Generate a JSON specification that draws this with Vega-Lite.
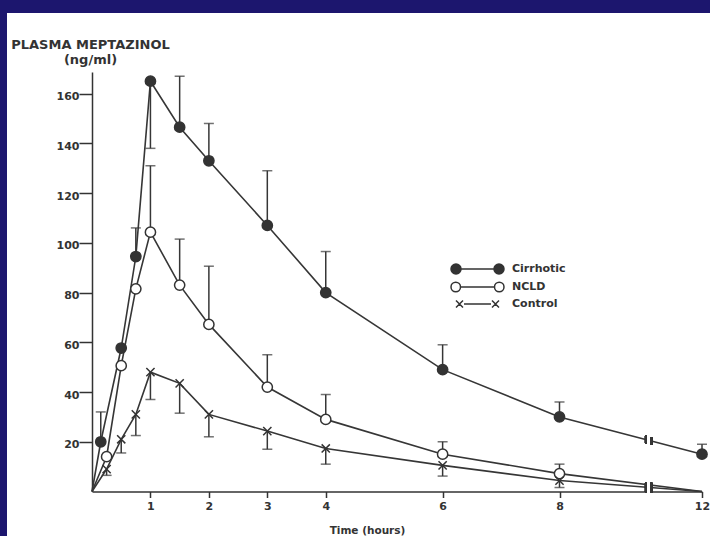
{
  "$schema": "https://vega.github.io/schema/vega-lite/v6.json",
  "width": 703,
  "height": 523,
  "autosize": {"type": "none"},
  "padding": {"left": 7, "top": 13, "right": 0, "bottom": 0},
  "background": "#1c166e",
  "config": {"view": {"fill": "white", "stroke": null}, "font": "DejaVu Sans"},
  "data": {"values": [
    {"group": "Cirrhotic", "t": 0, "conc": 0},
    {"group": "Cirrhotic", "t": 0.15, "conc": 20, "err": 32},
    {"group": "Cirrhotic", "t": 0.5, "conc": 57.7},
    {"group": "Cirrhotic", "t": 0.75, "conc": 94.5, "err": 106},
    {"group": "Cirrhotic", "t": 1, "conc": 165, "err": 138},
    {"group": "Cirrhotic", "t": 1.5, "conc": 146.5, "err": 167},
    {"group": "Cirrhotic", "t": 2, "conc": 133, "err": 148},
    {"group": "Cirrhotic", "t": 3, "conc": 107, "err": 129},
    {"group": "Cirrhotic", "t": 4, "conc": 80, "err": 96.5},
    {"group": "Cirrhotic", "t": 6, "conc": 49, "err": 59},
    {"group": "Cirrhotic", "t": 8, "conc": 30, "err": 36},
    {"group": "Cirrhotic", "t": 12, "conc": 15, "err": 19},
    {"group": "NCLD", "t": 0, "conc": 0},
    {"group": "NCLD", "t": 0.25, "conc": 14},
    {"group": "NCLD", "t": 0.5, "conc": 50.6},
    {"group": "NCLD", "t": 0.75, "conc": 81.5},
    {"group": "NCLD", "t": 1, "conc": 104.3, "err": 131},
    {"group": "NCLD", "t": 1.5, "conc": 83, "err": 101.5},
    {"group": "NCLD", "t": 2, "conc": 67.2, "err": 90.6},
    {"group": "NCLD", "t": 3, "conc": 42, "err": 55},
    {"group": "NCLD", "t": 4, "conc": 29, "err": 39},
    {"group": "NCLD", "t": 6, "conc": 15, "err": 20},
    {"group": "NCLD", "t": 8, "conc": 7.2, "err": 11},
    {"group": "NCLD", "t": 12, "conc": 0},
    {"group": "Control", "t": 0, "conc": 0},
    {"group": "Control", "t": 0.25, "conc": 9, "err": 6.5},
    {"group": "Control", "t": 0.5, "conc": 21, "err": 15.5},
    {"group": "Control", "t": 0.75, "conc": 31, "err": 22.5},
    {"group": "Control", "t": 1, "conc": 48, "err": 37},
    {"group": "Control", "t": 1.5, "conc": 43.5, "err": 31.5},
    {"group": "Control", "t": 2, "conc": 31, "err": 22},
    {"group": "Control", "t": 3, "conc": 24.3, "err": 17},
    {"group": "Control", "t": 4, "conc": 17.3, "err": 11},
    {"group": "Control", "t": 6, "conc": 10.5, "err": 6.2},
    {"group": "Control", "t": 8, "conc": 4.4, "err": 1.6},
    {"group": "Control", "t": 12, "conc": 0}
  ]},
  "encoding": {
    "x": {
      "field": "t", "type": "quantitative",
      "scale": {"domain": [0, 8, 12], "range": [85, 552.5, 695], "nice": false, "zero": false},
      "axis": {
        "values": [1, 2, 3, 4, 6, 8, 12], "offset": -44.5, "grid": false,
        "tickSize": 6, "tickWidth": 1.5, "tickColor": "#333", "domainColor": "#333", "domainWidth": 1.5,
        "labelPadding": 3, "labelFont": "DejaVu Sans", "labelFontSize": 11, "labelFontWeight": "bold", "labelColor": "#333",
        "labelFlush": false,
        "title": "Time (hours)", "titleX": 360, "titleY": 41.5, "titleAlign": "center", "titleBaseline": "alphabetic",
        "titleFont": "DejaVu Sans", "titleFontSize": 10.5, "titleFontWeight": "bold", "titleColor": "#333"
      }
    },
    "y": {
      "field": "conc", "type": "quantitative",
      "scale": {"domain": [0, 168.7], "range": [478.5, 59], "nice": false, "zero": false},
      "axis": {
        "values": [20, 40, 60, 80, 100, 120, 140, 160], "offset": -85, "grid": false,
        "tickSize": 13, "tickWidth": 1.5, "tickColor": "#333", "domainColor": "#333", "domainWidth": 1.5,
        "labelPadding": 0, "labelOffset": 3, "labelFont": "DejaVu Sans", "labelFontSize": 11, "labelFontWeight": "bold", "labelColor": "#333",
        "title": ["PLASMA MEPTAZINOL", "(ng/ml)"], "titleAngle": 0, "titleX": -2, "titleY": 35.5,
        "titleAlign": "center", "titleBaseline": "alphabetic", "titleLineHeight": 15,
        "titleFont": "DejaVu Sans", "titleFontSize": 13, "titleFontWeight": "bold", "titleColor": "#333"
      }
    }
  },
  "layer": [
    {
      "mark": {"type": "line", "stroke": "#363636", "strokeWidth": 1.6},
      "encoding": {"detail": {"field": "group"}}
    },
    {
      "transform": [{"filter": "isValid(datum.err)"}],
      "mark": {"type": "rule", "stroke": "#363636", "strokeWidth": 1.5},
      "encoding": {"y2": {"field": "err"}}
    },
    {
      "transform": [{"filter": "isValid(datum.err)"}],
      "mark": {"type": "tick", "orient": "horizontal", "size": 10, "thickness": 1.5, "color": "#363636"},
      "encoding": {"y": {"field": "err", "type": "quantitative"}}
    },
    {
      "transform": [{"filter": "datum.t > 0 && datum.conc > 0"}],
      "mark": {"type": "point", "filled": true, "stroke": "#333", "strokeWidth": 1.5, "size": 105, "opacity": 1},
      "encoding": {
        "shape": {
          "field": "group", "type": "nominal",
          "scale": {"domain": ["Cirrhotic", "NCLD", "Control"], "range": ["circle", "circle", "M-0.8,-0.8L0.8,0.8M-0.8,0.8L0.8,-0.8"]},
          "legend": null
        },
        "fill": {
          "field": "group", "type": "nominal",
          "scale": {"domain": ["Cirrhotic", "NCLD", "Control"], "range": ["#333333", "#ffffff", "transparent"]},
          "legend": null
        }
      }
    },
    {
      "transform": [{"filter": "false"}],
      "mark": {"type": "point", "filled": true, "strokeWidth": 1.5, "opacity": 1},
      "encoding": {
        "shape": {
          "field": "group", "type": "nominal",
          "scale": {"domain": ["Cirrhotic", "NCLD", "Control"], "range": [
            "M-5.3,0A1,1 0 1,1 -3.3,0A1,1 0 1,1 -5.3,0ZM-3.3,0L3.3,0M3.3,0A1,1 0 1,1 5.3,0A1,1 0 1,1 3.3,0Z",
            "M-5.3,0A0.95,0.95 0 1,1 -3.4,0A0.95,0.95 0 1,1 -5.3,0ZM-3.4,0L3.4,0M3.4,0A0.95,0.95 0 1,1 5.3,0A0.95,0.95 0 1,1 3.4,0Z",
            "M-4.3,-0.7L-2.9,0.7M-4.3,0.7L-2.9,-0.7M-2.7,0L2.7,0M2.9,-0.7L4.3,0.7M2.9,0.7L4.3,-0.7"
          ]},
          "legend": {
            "orient": "none", "legendX": 464.5, "legendY": 250, "title": null, "padding": 0,
            "symbolSize": 100, "symbolStrokeWidth": 1.5, "symbolOpacity": 1,
            "labelFont": "DejaVu Sans", "labelFontSize": 11, "labelFontWeight": "bold", "labelColor": "#333",
            "labelOffset": 28.5, "rowPadding": 2
          }
        },
        "fill": {
          "field": "group", "type": "nominal",
          "scale": {"domain": ["Cirrhotic", "NCLD", "Control"], "range": ["#333333", "#ffffff", "transparent"]},
          "legend": {
            "orient": "none", "legendX": 464.5, "legendY": 250, "title": null, "padding": 0,
            "symbolSize": 100, "symbolStrokeWidth": 1.5, "symbolOpacity": 1,
            "labelFont": "DejaVu Sans", "labelFontSize": 11, "labelFontWeight": "bold", "labelColor": "#333",
            "labelOffset": 28.5, "rowPadding": 2
          }
        },
        "stroke": {
          "field": "group", "type": "nominal",
          "scale": {"domain": ["Cirrhotic", "NCLD", "Control"], "range": ["#333333", "#333333", "#333333"]},
          "legend": {
            "orient": "none", "legendX": 464.5, "legendY": 250, "title": null, "padding": 0,
            "symbolSize": 100, "symbolStrokeWidth": 1.5, "symbolOpacity": 1,
            "labelFont": "DejaVu Sans", "labelFontSize": 11, "labelFontWeight": "bold", "labelColor": "#333",
            "labelOffset": 28.5, "rowPadding": 2
          }
        }
      }
    },
    {
      "mark": {"type": "rect", "fill": "white"},
      "encoding": {
        "x": {"datum": 10.42, "type": "quantitative"},
        "x2": {"datum": 10.58},
        "y": {"datum": -2, "type": "quantitative"},
        "y2": {"datum": 25}
      }
    },
    {
      "mark": {"type": "rule", "stroke": "#363636", "strokeWidth": 1.5},
      "encoding": {
        "x": {"datum": 10.42, "type": "quantitative"},
        "y": {"datum": -0.3, "type": "quantitative"},
        "y2": {"datum": 3.5}
      }
    },
    {
      "mark": {"type": "rule", "stroke": "#363636", "strokeWidth": 1.5},
      "encoding": {
        "x": {"datum": 10.58, "type": "quantitative"},
        "y": {"datum": -0.3, "type": "quantitative"},
        "y2": {"datum": 3.5}
      }
    },
    {
      "mark": {"type": "rule", "stroke": "#363636", "strokeWidth": 1.5},
      "encoding": {
        "x": {"datum": 10.42, "type": "quantitative"},
        "y": {"datum": 19.3, "type": "quantitative"},
        "y2": {"datum": 22.5}
      }
    },
    {
      "mark": {"type": "rule", "stroke": "#363636", "strokeWidth": 1.5},
      "encoding": {
        "x": {"datum": 10.58, "type": "quantitative"},
        "y": {"datum": 18.7, "type": "quantitative"},
        "y2": {"datum": 21.9}
      }
    }
  ],
  "resolve": {
    "scale": {"shape": "independent", "fill": "independent", "stroke": "independent"},
    "legend": {"shape": "independent", "fill": "independent", "stroke": "independent"}
  }
}
